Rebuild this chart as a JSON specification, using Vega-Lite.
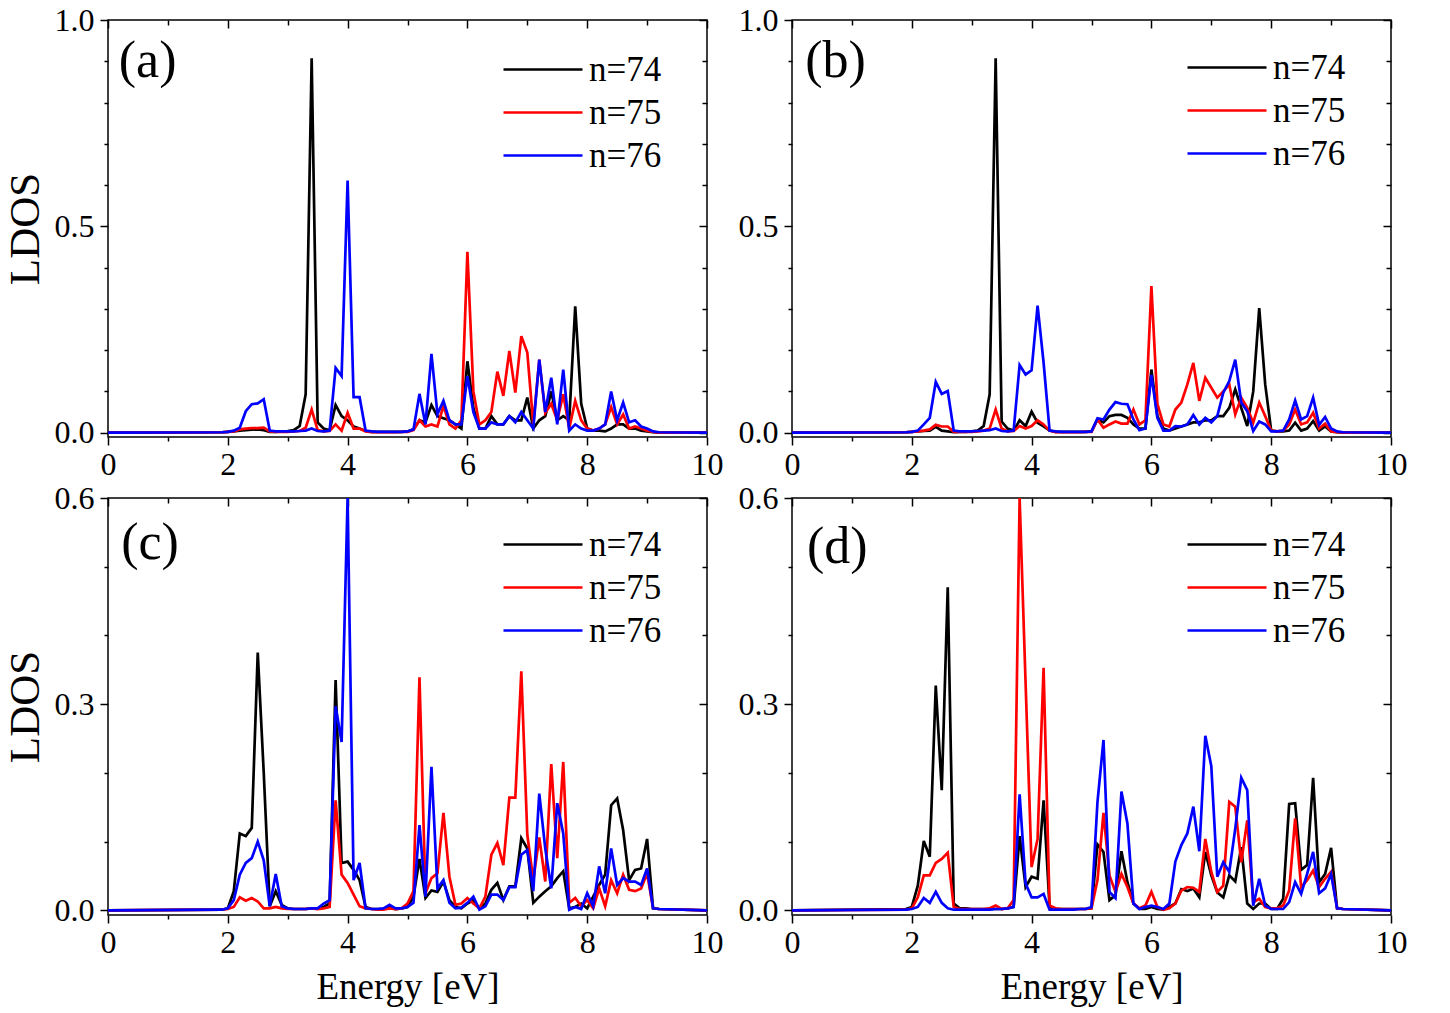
{
  "$schema": "https://vega.github.io/schema/vega-lite/v6.json",
  "background": "white",
  "padding": {"left": 3, "top": 3, "right": 5, "bottom": 5},
  "datasets": {
    "a": [
      {"e":0,"n74":0,"n75":0,"n76":0},
      {"e":1.9,"n74":0.001,"n75":0.001,"n76":0.001},
      {"e":2.0,"n74":0.002,"n75":0.002,"n76":0.002},
      {"e":2.1,"n74":0.003,"n75":0.003,"n76":0.005},
      {"e":2.2,"n74":0.005,"n75":0.008,"n76":0.012},
      {"e":2.3,"n74":0.006,"n75":0.01,"n76":0.052},
      {"e":2.4,"n74":0.007,"n75":0.011,"n76":0.069},
      {"e":2.5,"n74":0.008,"n75":0.011,"n76":0.071},
      {"e":2.6,"n74":0.006,"n75":0.012,"n76":0.081},
      {"e":2.7,"n74":0.002,"n75":0.003,"n76":0.005},
      {"e":2.8,"n74":0.002,"n75":0.002,"n76":0.003},
      {"e":2.9,"n74":0.003,"n75":0.002,"n76":0.003},
      {"e":3.0,"n74":0.004,"n75":0.002,"n76":0.003},
      {"e":3.1,"n74":0.006,"n75":0.003,"n76":0.003},
      {"e":3.2,"n74":0.016,"n75":0.004,"n76":0.004},
      {"e":3.3,"n74":0.093,"n75":0.012,"n76":0.005},
      {"e":3.4,"n74":0.907,"n75":0.056,"n76":0.01},
      {"e":3.5,"n74":0.025,"n75":0.006,"n76":0.004},
      {"e":3.6,"n74":0.01,"n75":0.003,"n76":0.003},
      {"e":3.7,"n74":0.006,"n75":0.004,"n76":0.005},
      {"e":3.8,"n74":0.067,"n75":0.02,"n76":0.157},
      {"e":3.9,"n74":0.04,"n75":0.005,"n76":0.137},
      {"e":4.0,"n74":0.03,"n75":0.048,"n76":0.611},
      {"e":4.1,"n74":0.015,"n75":0.01,"n76":0.086},
      {"e":4.2,"n74":0.01,"n75":0.01,"n76":0.086},
      {"e":4.3,"n74":0.004,"n75":0.003,"n76":0.005},
      {"e":4.4,"n74":0.002,"n75":0.001,"n76":0.003},
      {"e":4.5,"n74":0.002,"n75":0.001,"n76":0.002},
      {"e":4.6,"n74":0.002,"n75":0.001,"n76":0.002},
      {"e":4.7,"n74":0.002,"n75":0.001,"n76":0.002},
      {"e":4.8,"n74":0.002,"n75":0.001,"n76":0.002},
      {"e":4.9,"n74":0.002,"n75":0.002,"n76":0.002},
      {"e":5.0,"n74":0.003,"n75":0.002,"n76":0.003},
      {"e":5.1,"n74":0.008,"n75":0.006,"n76":0.008},
      {"e":5.2,"n74":0.03,"n75":0.03,"n76":0.094},
      {"e":5.3,"n74":0.025,"n75":0.015,"n76":0.02},
      {"e":5.4,"n74":0.067,"n75":0.02,"n76":0.191},
      {"e":5.5,"n74":0.04,"n75":0.015,"n76":0.045},
      {"e":5.6,"n74":0.035,"n75":0.065,"n76":0.077},
      {"e":5.7,"n74":0.03,"n75":0.02,"n76":0.03},
      {"e":5.8,"n74":0.02,"n75":0.01,"n76":0.02},
      {"e":5.9,"n74":0.01,"n75":0.03,"n76":0.02},
      {"e":6.0,"n74":0.173,"n75":0.438,"n76":0.137},
      {"e":6.1,"n74":0.06,"n75":0.1,"n76":0.05},
      {"e":6.2,"n74":0.01,"n75":0.02,"n76":0.01},
      {"e":6.3,"n74":0.01,"n75":0.03,"n76":0.01},
      {"e":6.4,"n74":0.04,"n75":0.05,"n76":0.025},
      {"e":6.5,"n74":0.02,"n75":0.148,"n76":0.02},
      {"e":6.6,"n74":0.02,"n75":0.089,"n76":0.02},
      {"e":6.7,"n74":0.04,"n75":0.198,"n76":0.04},
      {"e":6.8,"n74":0.03,"n75":0.097,"n76":0.025},
      {"e":6.9,"n74":0.03,"n75":0.234,"n76":0.05},
      {"e":7.0,"n74":0.085,"n75":0.194,"n76":0.03},
      {"e":7.1,"n74":0.01,"n75":0.02,"n76":0.01},
      {"e":7.2,"n74":0.03,"n75":0.177,"n76":0.177},
      {"e":7.3,"n74":0.04,"n75":0.048,"n76":0.05},
      {"e":7.4,"n74":0.1,"n75":0.07,"n76":0.133},
      {"e":7.5,"n74":0.03,"n75":0.03,"n76":0.02},
      {"e":7.6,"n74":0.04,"n75":0.093,"n76":0.153},
      {"e":7.7,"n74":0.03,"n75":0.01,"n76":0.005},
      {"e":7.8,"n74":0.306,"n75":0.077,"n76":0.02},
      {"e":7.9,"n74":0.07,"n75":0.03,"n76":0.01},
      {"e":8.0,"n74":0.01,"n75":0.01,"n76":0.005},
      {"e":8.1,"n74":0.005,"n75":0.005,"n76":0.005},
      {"e":8.2,"n74":0.005,"n75":0.01,"n76":0.01},
      {"e":8.3,"n74":0.003,"n75":0.02,"n76":0.02},
      {"e":8.4,"n74":0.01,"n75":0.062,"n76":0.1},
      {"e":8.5,"n74":0.02,"n75":0.02,"n76":0.03},
      {"e":8.6,"n74":0.02,"n75":0.044,"n76":0.073},
      {"e":8.7,"n74":0.01,"n75":0.01,"n76":0.025},
      {"e":8.8,"n74":0.01,"n75":0.015,"n76":0.03},
      {"e":8.9,"n74":0.005,"n75":0.01,"n76":0.015},
      {"e":9.0,"n74":0.003,"n75":0.005,"n76":0.01},
      {"e":9.1,"n74":0.001,"n75":0.002,"n76":0.003},
      {"e":9.2,"n74":0,"n75":0,"n76":0.001},
      {"e":10,"n74":0,"n75":0,"n76":0}
    ],
    "b": [
      {"e":0,"n74":0,"n75":0,"n76":0},
      {"e":1.9,"n74":0.001,"n75":0.001,"n76":0.001},
      {"e":2.0,"n74":0.002,"n75":0.002,"n76":0.002},
      {"e":2.1,"n74":0.003,"n75":0.003,"n76":0.005},
      {"e":2.2,"n74":0.004,"n75":0.005,"n76":0.02},
      {"e":2.3,"n74":0.005,"n75":0.008,"n76":0.036},
      {"e":2.4,"n74":0.014,"n75":0.019,"n76":0.123},
      {"e":2.5,"n74":0.005,"n75":0.015,"n76":0.094},
      {"e":2.6,"n74":0.003,"n75":0.015,"n76":0.101},
      {"e":2.7,"n74":0.001,"n75":0.002,"n76":0.005},
      {"e":2.8,"n74":0.002,"n75":0.002,"n76":0.003},
      {"e":2.9,"n74":0.002,"n75":0.002,"n76":0.003},
      {"e":3.0,"n74":0.003,"n75":0.002,"n76":0.003},
      {"e":3.1,"n74":0.005,"n75":0.003,"n76":0.004},
      {"e":3.2,"n74":0.016,"n75":0.005,"n76":0.005},
      {"e":3.3,"n74":0.093,"n75":0.01,"n76":0.006},
      {"e":3.4,"n74":0.907,"n75":0.056,"n76":0.01},
      {"e":3.5,"n74":0.027,"n75":0.01,"n76":0.004},
      {"e":3.6,"n74":0.01,"n75":0.003,"n76":0.003},
      {"e":3.7,"n74":0.005,"n75":0.004,"n76":0.005},
      {"e":3.8,"n74":0.03,"n75":0.016,"n76":0.164},
      {"e":3.9,"n74":0.016,"n75":0.01,"n76":0.141},
      {"e":4.0,"n74":0.051,"n75":0.016,"n76":0.151},
      {"e":4.1,"n74":0.024,"n75":0.03,"n76":0.308},
      {"e":4.2,"n74":0.015,"n75":0.02,"n76":0.17},
      {"e":4.3,"n74":0.005,"n75":0.005,"n76":0.005},
      {"e":4.4,"n74":0.002,"n75":0.001,"n76":0.003},
      {"e":4.5,"n74":0.002,"n75":0.001,"n76":0.002},
      {"e":4.6,"n74":0.002,"n75":0.001,"n76":0.002},
      {"e":4.7,"n74":0.002,"n75":0.001,"n76":0.002},
      {"e":4.8,"n74":0.002,"n75":0.001,"n76":0.002},
      {"e":4.9,"n74":0.002,"n75":0.002,"n76":0.002},
      {"e":5.0,"n74":0.003,"n75":0.002,"n76":0.003},
      {"e":5.1,"n74":0.032,"n75":0.032,"n76":0.035},
      {"e":5.2,"n74":0.025,"n75":0.012,"n76":0.032},
      {"e":5.3,"n74":0.04,"n75":0.02,"n76":0.056},
      {"e":5.4,"n74":0.043,"n75":0.027,"n76":0.074},
      {"e":5.5,"n74":0.043,"n75":0.022,"n76":0.07},
      {"e":5.6,"n74":0.036,"n75":0.022,"n76":0.069},
      {"e":5.7,"n74":0.02,"n75":0.056,"n76":0.032},
      {"e":5.8,"n74":0.01,"n75":0.02,"n76":0.006},
      {"e":5.9,"n74":0.01,"n75":0.03,"n76":0.01},
      {"e":6.0,"n74":0.153,"n75":0.355,"n76":0.14},
      {"e":6.1,"n74":0.04,"n75":0.07,"n76":0.036},
      {"e":6.2,"n74":0.01,"n75":0.02,"n76":0.005},
      {"e":6.3,"n74":0.005,"n75":0.015,"n76":0.005},
      {"e":6.4,"n74":0.01,"n75":0.056,"n76":0.016},
      {"e":6.5,"n74":0.015,"n75":0.073,"n76":0.015},
      {"e":6.6,"n74":0.02,"n75":0.117,"n76":0.02},
      {"e":6.7,"n74":0.025,"n75":0.169,"n76":0.043},
      {"e":6.8,"n74":0.025,"n75":0.077,"n76":0.02},
      {"e":6.9,"n74":0.03,"n75":0.133,"n76":0.036},
      {"e":7.0,"n74":0.03,"n75":0.109,"n76":0.025},
      {"e":7.1,"n74":0.04,"n75":0.085,"n76":0.04},
      {"e":7.2,"n74":0.04,"n75":0.1,"n76":0.097},
      {"e":7.3,"n74":0.06,"n75":0.117,"n76":0.125},
      {"e":7.4,"n74":0.105,"n75":0.044,"n76":0.177},
      {"e":7.5,"n74":0.06,"n75":0.085,"n76":0.073},
      {"e":7.6,"n74":0.016,"n75":0.06,"n76":0.052},
      {"e":7.7,"n74":0.1,"n75":0.024,"n76":0.004},
      {"e":7.8,"n74":0.302,"n75":0.073,"n76":0.027},
      {"e":7.9,"n74":0.117,"n75":0.04,"n76":0.02},
      {"e":8.0,"n74":0.005,"n75":0.005,"n76":0.003},
      {"e":8.1,"n74":0.003,"n75":0.003,"n76":0.003},
      {"e":8.2,"n74":0.003,"n75":0.005,"n76":0.005},
      {"e":8.3,"n74":0.005,"n75":0.02,"n76":0.032},
      {"e":8.4,"n74":0.024,"n75":0.056,"n76":0.078},
      {"e":8.5,"n74":0.005,"n75":0.02,"n76":0.032},
      {"e":8.6,"n74":0.01,"n75":0.025,"n76":0.04},
      {"e":8.7,"n74":0.028,"n75":0.048,"n76":0.085},
      {"e":8.8,"n74":0.005,"n75":0.01,"n76":0.019},
      {"e":8.9,"n74":0.015,"n75":0.022,"n76":0.038},
      {"e":9.0,"n74":0.003,"n75":0.003,"n76":0.01},
      {"e":9.1,"n74":0.001,"n75":0.001,"n76":0.003},
      {"e":9.2,"n74":0,"n75":0,"n76":0.001},
      {"e":10,"n74":0,"n75":0,"n76":0}
    ],
    "c": [
      {"e":0,"n74":0,"n75":0,"n76":0},
      {"e":1.9,"n74":0.001,"n75":0.001,"n76":0.001},
      {"e":2.0,"n74":0.003,"n75":0.002,"n76":0.003},
      {"e":2.1,"n74":0.028,"n75":0.005,"n76":0.015},
      {"e":2.2,"n74":0.112,"n75":0.019,"n76":0.052},
      {"e":2.3,"n74":0.108,"n75":0.014,"n76":0.069},
      {"e":2.4,"n74":0.12,"n75":0.018,"n76":0.076},
      {"e":2.5,"n74":0.375,"n75":0.013,"n76":0.1},
      {"e":2.6,"n74":0.2,"n75":0.003,"n76":0.073},
      {"e":2.7,"n74":0.006,"n75":0.003,"n76":0.006},
      {"e":2.8,"n74":0.028,"n75":0.005,"n76":0.053},
      {"e":2.9,"n74":0.008,"n75":0.003,"n76":0.006},
      {"e":3.0,"n74":0.003,"n75":0.002,"n76":0.003},
      {"e":3.1,"n74":0.002,"n75":0.002,"n76":0.002},
      {"e":3.2,"n74":0.002,"n75":0.002,"n76":0.002},
      {"e":3.3,"n74":0.002,"n75":0.002,"n76":0.002},
      {"e":3.4,"n74":0.003,"n75":0.003,"n76":0.003},
      {"e":3.5,"n74":0.003,"n75":0.002,"n76":0.003},
      {"e":3.6,"n74":0.005,"n75":0.003,"n76":0.01},
      {"e":3.7,"n74":0.01,"n75":0.005,"n76":0.015},
      {"e":3.8,"n74":0.335,"n75":0.16,"n76":0.297},
      {"e":3.9,"n74":0.069,"n75":0.052,"n76":0.245},
      {"e":4.0,"n74":0.071,"n75":0.04,"n76":0.6},
      {"e":4.1,"n74":0.059,"n75":0.023,"n76":0.044},
      {"e":4.2,"n74":0.044,"n75":0.006,"n76":0.069},
      {"e":4.3,"n74":0.005,"n75":0.003,"n76":0.003},
      {"e":4.4,"n74":0.002,"n75":0.002,"n76":0.002},
      {"e":4.5,"n74":0.002,"n75":0.001,"n76":0.002},
      {"e":4.6,"n74":0.002,"n75":0.001,"n76":0.003},
      {"e":4.7,"n74":0.005,"n75":0.003,"n76":0.008},
      {"e":4.8,"n74":0.002,"n75":0.002,"n76":0.003},
      {"e":4.9,"n74":0.003,"n75":0.003,"n76":0.003},
      {"e":5.0,"n74":0.005,"n75":0.01,"n76":0.005},
      {"e":5.1,"n74":0.02,"n75":0.028,"n76":0.011},
      {"e":5.2,"n74":0.075,"n75":0.339,"n76":0.124},
      {"e":5.3,"n74":0.018,"n75":0.025,"n76":0.02},
      {"e":5.4,"n74":0.029,"n75":0.047,"n76":0.209},
      {"e":5.5,"n74":0.027,"n75":0.054,"n76":0.032},
      {"e":5.6,"n74":0.042,"n75":0.142,"n76":0.044},
      {"e":5.7,"n74":0.015,"n75":0.049,"n76":0.011},
      {"e":5.8,"n74":0.005,"n75":0.008,"n76":0.003},
      {"e":5.9,"n74":0.003,"n75":0.01,"n76":0.004},
      {"e":6.0,"n74":0.01,"n75":0.018,"n76":0.011},
      {"e":6.1,"n74":0.015,"n75":0.01,"n76":0.02},
      {"e":6.2,"n74":0.003,"n75":0.003,"n76":0.001},
      {"e":6.3,"n74":0.01,"n75":0.02,"n76":0.006},
      {"e":6.4,"n74":0.03,"n75":0.081,"n76":0.023},
      {"e":6.5,"n74":0.04,"n75":0.098,"n76":0.023},
      {"e":6.6,"n74":0.015,"n75":0.066,"n76":0.015},
      {"e":6.7,"n74":0.035,"n75":0.164,"n76":0.034},
      {"e":6.8,"n74":0.035,"n75":0.164,"n76":0.034},
      {"e":6.9,"n74":0.105,"n75":0.348,"n76":0.081},
      {"e":7.0,"n74":0.09,"n75":0.11,"n76":0.088},
      {"e":7.1,"n74":0.011,"n75":0.044,"n76":0.028},
      {"e":7.2,"n74":0.02,"n75":0.106,"n76":0.17},
      {"e":7.3,"n74":0.028,"n75":0.042,"n76":0.09},
      {"e":7.4,"n74":0.035,"n75":0.213,"n76":0.032},
      {"e":7.5,"n74":0.047,"n75":0.076,"n76":0.156},
      {"e":7.6,"n74":0.057,"n75":0.216,"n76":0.112},
      {"e":7.7,"n74":0.003,"n75":0.011,"n76":0.001},
      {"e":7.8,"n74":0.005,"n75":0.018,"n76":0.005},
      {"e":7.9,"n74":0.01,"n75":0.006,"n76":0.002},
      {"e":8.0,"n74":0.003,"n75":0.015,"n76":0.025},
      {"e":8.1,"n74":0.02,"n75":0.003,"n76":0.006},
      {"e":8.2,"n74":0.037,"n75":0.032,"n76":0.064},
      {"e":8.3,"n74":0.052,"n75":0.006,"n76":0.025},
      {"e":8.4,"n74":0.153,"n75":0.044,"n76":0.09},
      {"e":8.5,"n74":0.163,"n75":0.025,"n76":0.037},
      {"e":8.6,"n74":0.117,"n75":0.052,"n76":0.047},
      {"e":8.7,"n74":0.044,"n75":0.03,"n76":0.042},
      {"e":8.8,"n74":0.059,"n75":0.028,"n76":0.042},
      {"e":8.9,"n74":0.061,"n75":0.032,"n76":0.037},
      {"e":9.0,"n74":0.104,"n75":0.054,"n76":0.061},
      {"e":9.1,"n74":0.003,"n75":0.003,"n76":0.003},
      {"e":9.2,"n74":0.002,"n75":0.002,"n76":0.002},
      {"e":10,"n74":0,"n75":0,"n76":0}
    ],
    "d": [
      {"e":0,"n74":0,"n75":0,"n76":0},
      {"e":1.9,"n74":0.002,"n75":0.001,"n76":0.001},
      {"e":2.0,"n74":0.005,"n75":0.003,"n76":0.002},
      {"e":2.1,"n74":0.036,"n75":0.019,"n76":0.005},
      {"e":2.2,"n74":0.101,"n75":0.051,"n76":0.018},
      {"e":2.3,"n74":0.078,"n75":0.051,"n76":0.011},
      {"e":2.4,"n74":0.327,"n75":0.069,"n76":0.027},
      {"e":2.5,"n74":0.175,"n75":0.075,"n76":0.011},
      {"e":2.6,"n74":0.47,"n75":0.084,"n76":0.003},
      {"e":2.7,"n74":0.01,"n75":0.005,"n76":0.001},
      {"e":2.8,"n74":0.003,"n75":0.002,"n76":0.001},
      {"e":2.9,"n74":0.003,"n75":0.002,"n76":0.001},
      {"e":3.0,"n74":0.002,"n75":0.002,"n76":0.001},
      {"e":3.1,"n74":0.002,"n75":0.002,"n76":0.001},
      {"e":3.2,"n74":0.002,"n75":0.002,"n76":0.001},
      {"e":3.3,"n74":0.002,"n75":0.003,"n76":0.001},
      {"e":3.4,"n74":0.002,"n75":0.007,"n76":0.002},
      {"e":3.5,"n74":0.002,"n75":0.002,"n76":0.002},
      {"e":3.6,"n74":0.003,"n75":0.003,"n76":0.003},
      {"e":3.7,"n74":0.005,"n75":0.015,"n76":0.005},
      {"e":3.8,"n74":0.108,"n75":0.6,"n76":0.169},
      {"e":3.9,"n74":0.034,"n75":0.33,"n76":0.039},
      {"e":4.0,"n74":0.049,"n75":0.063,"n76":0.019},
      {"e":4.1,"n74":0.046,"n75":0.104,"n76":0.019},
      {"e":4.2,"n74":0.16,"n75":0.353,"n76":0.024},
      {"e":4.3,"n74":0.005,"n75":0.007,"n76":0.001},
      {"e":4.4,"n74":0.002,"n75":0.003,"n76":0.001},
      {"e":4.5,"n74":0.002,"n75":0.002,"n76":0.001},
      {"e":4.6,"n74":0.002,"n75":0.002,"n76":0.001},
      {"e":4.7,"n74":0.002,"n75":0.002,"n76":0.001},
      {"e":4.8,"n74":0.002,"n75":0.002,"n76":0.002},
      {"e":4.9,"n74":0.002,"n75":0.002,"n76":0.002},
      {"e":5.0,"n74":0.003,"n75":0.003,"n76":0.005},
      {"e":5.1,"n74":0.096,"n75":0.044,"n76":0.158},
      {"e":5.2,"n74":0.085,"n75":0.142,"n76":0.248},
      {"e":5.3,"n74":0.015,"n75":0.051,"n76":0.027},
      {"e":5.4,"n74":0.022,"n75":0.027,"n76":0.018},
      {"e":5.5,"n74":0.086,"n75":0.053,"n76":0.173},
      {"e":5.6,"n74":0.041,"n75":0.034,"n76":0.126},
      {"e":5.7,"n74":0.01,"n75":0.01,"n76":0.01},
      {"e":5.8,"n74":0.002,"n75":0.003,"n76":0.002},
      {"e":5.9,"n74":0.002,"n75":0.007,"n76":0.005},
      {"e":6.0,"n74":0.005,"n75":0.027,"n76":0.007},
      {"e":6.1,"n74":0.002,"n75":0.005,"n76":0.005},
      {"e":6.2,"n74":0.001,"n75":0.001,"n76":0.002},
      {"e":6.3,"n74":0.005,"n75":0.003,"n76":0.01},
      {"e":6.4,"n74":0.01,"n75":0.01,"n76":0.071},
      {"e":6.5,"n74":0.031,"n75":0.029,"n76":0.095},
      {"e":6.6,"n74":0.028,"n75":0.034,"n76":0.112},
      {"e":6.7,"n74":0.032,"n75":0.033,"n76":0.151},
      {"e":6.8,"n74":0.019,"n75":0.027,"n76":0.086},
      {"e":6.9,"n74":0.085,"n75":0.104,"n76":0.254},
      {"e":7.0,"n74":0.051,"n75":0.056,"n76":0.21},
      {"e":7.1,"n74":0.026,"n75":0.027,"n76":0.049},
      {"e":7.2,"n74":0.019,"n75":0.036,"n76":0.07},
      {"e":7.3,"n74":0.051,"n75":0.158,"n76":0.056},
      {"e":7.4,"n74":0.042,"n75":0.151,"n76":0.119},
      {"e":7.5,"n74":0.092,"n75":0.07,"n76":0.193},
      {"e":7.6,"n74":0.01,"n75":0.131,"n76":0.175},
      {"e":7.7,"n74":0.002,"n75":0.012,"n76":0.007},
      {"e":7.8,"n74":0.01,"n75":0.017,"n76":0.046},
      {"e":7.9,"n74":0.01,"n75":0.005,"n76":0.007},
      {"e":8.0,"n74":0.002,"n75":0.003,"n76":0.002},
      {"e":8.1,"n74":0.002,"n75":0.003,"n76":0.002},
      {"e":8.2,"n74":0.017,"n75":0.007,"n76":0.002},
      {"e":8.3,"n74":0.155,"n75":0.029,"n76":0.012},
      {"e":8.4,"n74":0.156,"n75":0.134,"n76":0.041},
      {"e":8.5,"n74":0.059,"n75":0.034,"n76":0.024},
      {"e":8.6,"n74":0.066,"n75":0.044,"n76":0.053},
      {"e":8.7,"n74":0.193,"n75":0.058,"n76":0.085},
      {"e":8.8,"n74":0.041,"n75":0.034,"n76":0.025},
      {"e":8.9,"n74":0.053,"n75":0.046,"n76":0.032},
      {"e":9.0,"n74":0.091,"n75":0.056,"n76":0.053},
      {"e":9.1,"n74":0.003,"n75":0.003,"n76":0.003},
      {"e":9.2,"n74":0.002,"n75":0.002,"n76":0.002},
      {"e":10,"n74":0,"n75":0,"n76":0}
    ]
  },
  "config": {
    "font": "Liberation Serif",
    "view": {"stroke": "#000000", "strokeWidth": 1.5},
    "axis": {
      "grid": false,
      "domain": false,
      "tickColor": "#000000",
      "tickWidth": 1.5,
      "labelColor": "#000000",
      "labelFont": "Liberation Serif",
      "labelFontSize": 32,
      "labelFlush": false,
      "labelOverlap": false,
      "titleFont": "Liberation Serif",
      "titleColor": "#000000",
      "titleFontWeight": "normal"
    },
    "legend": {
      "orient": "none",
      "title": null,
      "padding": 0,
      "symbolType": "stroke",
      "symbolSize": 6241,
      "symbolStrokeWidth": 2.7,
      "labelFont": "Liberation Serif",
      "labelFontSize": 35,
      "labelColor": "#000000",
      "labelOffset": 5,
      "clipHeight": 43,
      "rowPadding": 0
    }
  },
  "columns": 2,
  "spacing": {"row": 61, "column": 85},
  "bounds": "flush",
  "resolve": {"scale": {"color": "independent"}, "legend": {"color": "independent"}},
  "concat": [
    {
      "width": 599,
      "height": 417,
      "layer": [
        {
          "data": {"name": "a"},
          "transform": [{"fold": ["n74", "n75", "n76"], "as": ["k", "v"]}],
          "mark": {"type": "line", "strokeWidth": 2.7, "clip": true},
          "encoding": {
            "x": {"field": "e", "type": "quantitative", "scale": {"domain": [0, 10], "nice": false},
              "axis": {"orient": "bottom", "values": [0,1,2,3,4,5,6,7,8,9,10], "labelExpr": "datum.value % 2 ? '' : datum.label",
                "tickSize": {"condition": {"test": "datum.value % 2 === 0", "value": 8}, "value": 4}, "labelPadding": 4, "title": null}},
            "y": {"field": "v", "type": "quantitative", "scale": {"domain": [-0.0105, 1.0], "nice": false, "zero": false},
              "axis": {"orient": "left", "values": [0,0.1,0.2,0.3,0.4,0.5,0.6,0.7,0.8,0.9,1.0], "format": ".1f",
                "labelExpr": "abs(datum.value*2 - round(datum.value*2)) < 0.001 ? datum.label : ''",
                "tickSize": {"condition": {"test": "abs(datum.value*2 - round(datum.value*2)) < 0.001", "value": 8}, "value": 4},
                "labelPadding": 6, "title": "LDOS", "titleFontSize": 43, "titlePadding": 7}},
            "color": {"field": "k", "type": "nominal", "scale": {"domain": ["n74", "n75", "n76"], "range": ["#000000", "#ff0000", "#0000ff"]},
              "legend": {"legendX": 394, "legendY": 28, "labelExpr": "'n=' + slice(datum.label, 1)"}}
          }
        },
        {
          "data": {"name": "a"},
          "transform": [{"fold": ["n74", "n75", "n76"], "as": ["k", "v"]}],
          "mark": {"type": "line", "strokeOpacity": 0},
          "encoding": {
            "x": {"field": "e", "type": "quantitative",
              "axis": {"orient": "top", "values": [0,1,2,3,4,5,6,7,8,9,10], "labels": false,
                "tickSize": {"condition": {"test": "datum.value % 2 === 0", "value": -8}, "value": -5}, "title": null}},
            "y": {"field": "v", "type": "quantitative",
              "axis": {"orient": "right", "values": [0,0.1,0.2,0.3,0.4,0.5,0.6,0.7,0.8,0.9,1.0], "labels": false,
                "tickSize": {"condition": {"test": "abs(datum.value*2 - round(datum.value*2)) < 0.001", "value": -8}, "value": -5}, "title": null}}
          }
        },
        {
          "data": {"values": [{"t": "(a)"}]},
          "mark": {"type": "text", "font": "Liberation Serif", "fontSize": 52, "align": "left", "baseline": "middle", "color": "#000000"},
          "encoding": {"x": {"datum": 0.18, "axis": null}, "y": {"datum": 0.9, "axis": null}, "text": {"field": "t"}}
        }
      ],
      "resolve": {"axis": {"x": "independent", "y": "independent"}}
    },
    {
      "width": 599,
      "height": 417,
      "layer": [
        {
          "data": {"name": "b"},
          "transform": [{"fold": ["n74", "n75", "n76"], "as": ["k", "v"]}],
          "mark": {"type": "line", "strokeWidth": 2.7, "clip": true},
          "encoding": {
            "x": {"field": "e", "type": "quantitative", "scale": {"domain": [0, 10], "nice": false},
              "axis": {"orient": "bottom", "values": [0,1,2,3,4,5,6,7,8,9,10], "labelExpr": "datum.value % 2 ? '' : datum.label",
                "tickSize": {"condition": {"test": "datum.value % 2 === 0", "value": 8}, "value": 4}, "labelPadding": 4, "title": null}},
            "y": {"field": "v", "type": "quantitative", "scale": {"domain": [-0.0105, 1.0], "nice": false, "zero": false},
              "axis": {"orient": "left", "values": [0,0.1,0.2,0.3,0.4,0.5,0.6,0.7,0.8,0.9,1.0], "format": ".1f",
                "labelExpr": "abs(datum.value*2 - round(datum.value*2)) < 0.001 ? datum.label : ''",
                "tickSize": {"condition": {"test": "abs(datum.value*2 - round(datum.value*2)) < 0.001", "value": 8}, "value": 4},
                "labelPadding": 6, "title": null}},
            "color": {"field": "k", "type": "nominal", "scale": {"domain": ["n74", "n75", "n76"], "range": ["#000000", "#ff0000", "#0000ff"]},
              "legend": {"legendX": 394, "legendY": 26, "labelExpr": "'n=' + slice(datum.label, 1)"}}
          }
        },
        {
          "data": {"name": "b"},
          "transform": [{"fold": ["n74", "n75", "n76"], "as": ["k", "v"]}],
          "mark": {"type": "line", "strokeOpacity": 0},
          "encoding": {
            "x": {"field": "e", "type": "quantitative",
              "axis": {"orient": "top", "values": [0,1,2,3,4,5,6,7,8,9,10], "labels": false,
                "tickSize": {"condition": {"test": "datum.value % 2 === 0", "value": -8}, "value": -5}, "title": null}},
            "y": {"field": "v", "type": "quantitative",
              "axis": {"orient": "right", "values": [0,0.1,0.2,0.3,0.4,0.5,0.6,0.7,0.8,0.9,1.0], "labels": false,
                "tickSize": {"condition": {"test": "abs(datum.value*2 - round(datum.value*2)) < 0.001", "value": -8}, "value": -5}, "title": null}}
          }
        },
        {
          "data": {"values": [{"t": "(b)"}]},
          "mark": {"type": "text", "font": "Liberation Serif", "fontSize": 52, "align": "left", "baseline": "middle", "color": "#000000"},
          "encoding": {"x": {"datum": 0.22, "axis": null}, "y": {"datum": 0.9, "axis": null}, "text": {"field": "t"}}
        }
      ],
      "resolve": {"axis": {"x": "independent", "y": "independent"}}
    },
    {
      "width": 599,
      "height": 417,
      "layer": [
        {
          "data": {"name": "c"},
          "transform": [{"fold": ["n74", "n75", "n76"], "as": ["k", "v"]}],
          "mark": {"type": "line", "strokeWidth": 2.7, "clip": true},
          "encoding": {
            "x": {"field": "e", "type": "quantitative", "scale": {"domain": [0, 10], "nice": false},
              "axis": {"orient": "bottom", "values": [0,1,2,3,4,5,6,7,8,9,10], "labelExpr": "datum.value % 2 ? '' : datum.label",
                "tickSize": {"condition": {"test": "datum.value % 2 === 0", "value": 8}, "value": 4}, "labelPadding": 4,
                "title": "Energy [eV]", "titleFontSize": 37, "titlePadding": 11}},
            "y": {"field": "v", "type": "quantitative", "scale": {"domain": [-0.0067, 0.6], "nice": false, "zero": false},
              "axis": {"orient": "left", "values": [0,0.1,0.2,0.3,0.4,0.5,0.6], "format": ".1f",
                "labelExpr": "abs(datum.value/0.3 - round(datum.value/0.3)) < 0.001 ? datum.label : ''",
                "tickSize": {"condition": {"test": "abs(datum.value/0.3 - round(datum.value/0.3)) < 0.001", "value": 8}, "value": 4},
                "labelPadding": 6, "title": "LDOS", "titleFontSize": 43, "titlePadding": 7}},
            "color": {"field": "k", "type": "nominal", "scale": {"domain": ["n74", "n75", "n76"], "range": ["#000000", "#ff0000", "#0000ff"]},
              "legend": {"legendX": 394, "legendY": 25, "labelExpr": "'n=' + slice(datum.label, 1)"}}
          }
        },
        {
          "data": {"name": "c"},
          "transform": [{"fold": ["n74", "n75", "n76"], "as": ["k", "v"]}],
          "mark": {"type": "line", "strokeOpacity": 0},
          "encoding": {
            "x": {"field": "e", "type": "quantitative",
              "axis": {"orient": "top", "values": [0,1,2,3,4,5,6,7,8,9,10], "labels": false,
                "tickSize": {"condition": {"test": "datum.value % 2 === 0", "value": -8}, "value": -5}, "title": null}},
            "y": {"field": "v", "type": "quantitative",
              "axis": {"orient": "right", "values": [0,0.1,0.2,0.3,0.4,0.5,0.6], "labels": false,
                "tickSize": {"condition": {"test": "abs(datum.value/0.3 - round(datum.value/0.3)) < 0.001", "value": -8}, "value": -5}, "title": null}}
          }
        },
        {
          "data": {"values": [{"t": "(c)"}]},
          "mark": {"type": "text", "font": "Liberation Serif", "fontSize": 52, "align": "left", "baseline": "middle", "color": "#000000"},
          "encoding": {"x": {"datum": 0.22, "axis": null}, "y": {"datum": 0.534, "axis": null}, "text": {"field": "t"}}
        }
      ],
      "resolve": {"axis": {"x": "independent", "y": "independent"}}
    },
    {
      "width": 599,
      "height": 417,
      "layer": [
        {
          "data": {"name": "d"},
          "transform": [{"fold": ["n74", "n75", "n76"], "as": ["k", "v"]}],
          "mark": {"type": "line", "strokeWidth": 2.7, "clip": true},
          "encoding": {
            "x": {"field": "e", "type": "quantitative", "scale": {"domain": [0, 10], "nice": false},
              "axis": {"orient": "bottom", "values": [0,1,2,3,4,5,6,7,8,9,10], "labelExpr": "datum.value % 2 ? '' : datum.label",
                "tickSize": {"condition": {"test": "datum.value % 2 === 0", "value": 8}, "value": 4}, "labelPadding": 4,
                "title": "Energy [eV]", "titleFontSize": 37, "titlePadding": 11}},
            "y": {"field": "v", "type": "quantitative", "scale": {"domain": [-0.0067, 0.6], "nice": false, "zero": false},
              "axis": {"orient": "left", "values": [0,0.1,0.2,0.3,0.4,0.5,0.6], "format": ".1f",
                "labelExpr": "abs(datum.value/0.3 - round(datum.value/0.3)) < 0.001 ? datum.label : ''",
                "tickSize": {"condition": {"test": "abs(datum.value/0.3 - round(datum.value/0.3)) < 0.001", "value": 8}, "value": 4},
                "labelPadding": 6, "title": null}},
            "color": {"field": "k", "type": "nominal", "scale": {"domain": ["n74", "n75", "n76"], "range": ["#000000", "#ff0000", "#0000ff"]},
              "legend": {"legendX": 394, "legendY": 25, "labelExpr": "'n=' + slice(datum.label, 1)"}}
          }
        },
        {
          "data": {"name": "d"},
          "transform": [{"fold": ["n74", "n75", "n76"], "as": ["k", "v"]}],
          "mark": {"type": "line", "strokeOpacity": 0},
          "encoding": {
            "x": {"field": "e", "type": "quantitative",
              "axis": {"orient": "top", "values": [0,1,2,3,4,5,6,7,8,9,10], "labels": false,
                "tickSize": {"condition": {"test": "datum.value % 2 === 0", "value": -8}, "value": -5}, "title": null}},
            "y": {"field": "v", "type": "quantitative",
              "axis": {"orient": "right", "values": [0,0.1,0.2,0.3,0.4,0.5,0.6], "labels": false,
                "tickSize": {"condition": {"test": "abs(datum.value/0.3 - round(datum.value/0.3)) < 0.001", "value": -8}, "value": -5}, "title": null}}
          }
        },
        {
          "data": {"values": [{"t": "(d)"}]},
          "mark": {"type": "text", "font": "Liberation Serif", "fontSize": 52, "align": "left", "baseline": "middle", "color": "#000000"},
          "encoding": {"x": {"datum": 0.25, "axis": null}, "y": {"datum": 0.528, "axis": null}, "text": {"field": "t"}}
        }
      ],
      "resolve": {"axis": {"x": "independent", "y": "independent"}}
    }
  ]
}
